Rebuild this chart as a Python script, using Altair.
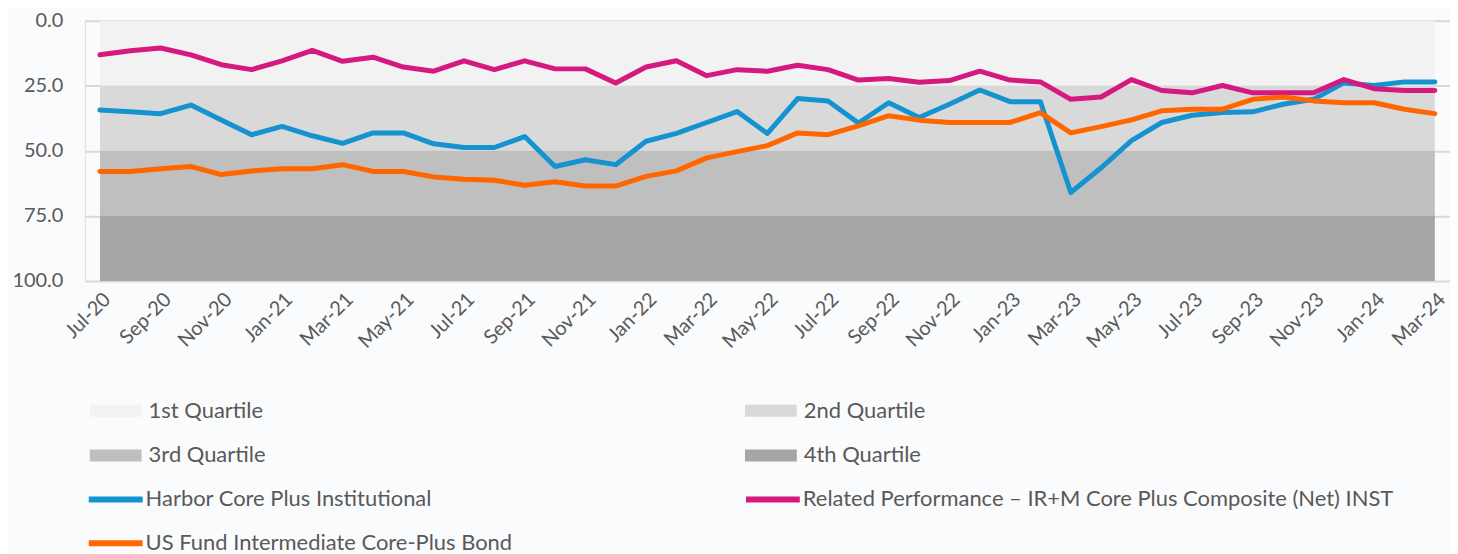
import altair as alt
import pandas as pd

months = ["Jul-20", "Aug-20", "Sep-20", "Oct-20", "Nov-20", "Dec-20",
          "Jan-21", "Feb-21", "Mar-21", "Apr-21", "May-21", "Jun-21",
          "Jul-21", "Aug-21", "Sep-21", "Oct-21", "Nov-21", "Dec-21",
          "Jan-22", "Feb-22", "Mar-22", "Apr-22", "May-22", "Jun-22",
          "Jul-22", "Aug-22", "Sep-22", "Oct-22", "Nov-22", "Dec-22",
          "Jan-23", "Feb-23", "Mar-23", "Apr-23", "May-23", "Jun-23",
          "Jul-23", "Aug-23", "Sep-23", "Oct-23", "Nov-23", "Dec-23",
          "Jan-24", "Feb-24", "Mar-24"]

harbor = [34.3, 35.0, 35.7, 32.4, 38.1, 43.8, 40.6, 44.2, 47.1, 43.1,
          43.1, 47.3, 48.7, 48.7, 44.5, 56.0, 53.4, 55.3, 46.3, 43.3,
          39.1, 34.9, 43.3, 29.9, 30.8, 39.3, 31.5, 37.2, 32.1, 26.6,
          31.1, 31.1, 66.0, 56.5, 46.1, 39.1, 36.3, 35.3, 35.0, 32.1,
          30.2, 23.9, 24.9, 23.5, 23.5]

related = [13.1, 11.5, 10.5, 13.1, 16.9, 18.8, 15.4, 11.4, 15.6, 14.0,
           17.8, 19.4, 15.4, 18.8, 15.4, 18.5, 18.5, 23.9, 17.8, 15.4,
           21.1, 18.8, 19.4, 17.1, 18.8, 22.8, 22.2, 23.6, 23.0, 19.4,
           22.8, 23.5, 30.2, 29.3, 22.6, 26.8, 27.7, 24.9, 27.7, 27.7,
           27.7, 22.6, 26.1, 26.8, 26.8]

us_fund = [57.9, 57.9, 56.9, 56.0, 59.1, 57.7, 56.9, 56.9, 55.3, 57.9,
           57.9, 60.0, 60.9, 61.3, 63.2, 61.9, 63.5, 63.5, 59.8, 57.7,
           52.7, 50.3, 48.0, 43.1, 43.8, 40.4, 36.5, 38.2, 39.1, 39.1,
           39.1, 35.3, 43.1, 40.7, 38.1, 34.6, 34.0, 34.0, 30.2, 29.3,
           30.8, 31.5, 31.5, 34.0, 35.7]

quartile_names = ["1st Quartile", "2nd Quartile", "3rd Quartile", "4th Quartile"]
quartile_low = [0, 25, 50, 75]
quartile_high = [25, 50, 75, 100]
quartile_colors = ["#f2f2f2", "#d9d9d9", "#bfbfbf", "#a6a6a6"]

series_names = ["Harbor Core Plus Institutional",
                "Related Performance \u2013 IR+M Core Plus Composite (Net) INST",
                "US Fund Intermediate Core-Plus Bond"]
series_colors = ["#1593d1", "#d6197f", "#ff6600"]
y_ticks = [0, 25, 50, 75, 100]

# legend entry order (legend fills column by column)
quartile_legend_order = [quartile_names[0], quartile_names[2],
                         quartile_names[1], quartile_names[3]]
series_legend_order = [series_names[0], series_names[2], series_names[1]]

FONT = "Lato"
TXT = "#595959"

bands = pd.DataFrame({
    "quartile": quartile_names,
    "lo": quartile_low,
    "hi": quartile_high,
    "start": [months[0]] * 4,
    "end": [months[-1]] * 4,
})

rows = []
for name, vals in zip(series_names, [harbor, related, us_fund]):
    for m, v in zip(months, vals):
        rows.append({"month": m, "series": name, "rank": v})
lines = pd.DataFrame(rows)

xscale = alt.Scale(type="point", domain=months, padding=0.5)
yscale = alt.Scale(domain=[0, 100], reverse=True, nice=False)

x_axis = alt.Axis(values=months[::2], labelAngle=315, labelFontSize=20,
                  labelColor=TXT, domain=False, ticks=False, grid=False,
                  title=None, labelPadding=8, labelFont=FONT)
y_axis = alt.Axis(values=y_ticks, format=".1f", grid=True, gridColor="#d9d9d9",
                  gridWidth=2, domain=False, ticks=False, labelPadding=22,
                  labelFontSize=20, labelColor=TXT, title=None, labelFont=FONT)

band_layer = alt.Chart(bands).mark_rect().encode(
    x=alt.X("start:O", scale=xscale, axis=x_axis, sort=months),
    x2="end:O",
    y=alt.Y("lo:Q", scale=yscale, axis=y_axis),
    y2="hi:Q",
    color=alt.Color("quartile:N",
                    scale=alt.Scale(domain=quartile_names, range=quartile_colors),
                    legend=alt.Legend(orient="none", legendX=20, legendY=380,
                                      values=quartile_legend_order,
                                      columns=2, columnPadding=480, rowPadding=23,
                                      symbolType="M-2.6,-0.6H2.6V0.6H-2.6Z",
                                      symbolSize=400, symbolStrokeWidth=0,
                                      labelOffset=22, labelFontSize=22,
                                      labelColor=TXT, labelFont=FONT,
                                      labelLimit=900, title=None, padding=0)),
)

line_layer = alt.Chart(lines).mark_line(strokeWidth=5, strokeJoin="round",
                                        strokeCap="round").encode(
    x=alt.X("month:O", scale=xscale, sort=months),
    y=alt.Y("rank:Q", scale=yscale),
    stroke=alt.Stroke("series:N",
                      scale=alt.Scale(domain=series_names, range=series_colors),
                      legend=alt.Legend(orient="none", legendX=18, legendY=467,
                                        values=series_legend_order,
                                        columns=2, columnPadding=222, rowPadding=19,
                                        symbolType="M-2.7,0H2.7",
                                        symbolSize=400, symbolStrokeWidth=6,
                                        labelOffset=17, labelFontSize=22,
                                        labelColor=TXT, labelFont=FONT,
                                        labelLimit=900, title=None, padding=0)),
    detail="series:N",
)

chart = alt.layer(band_layer, line_layer).properties(
    width=1369, height=261,
    padding={"left": 3, "top": 2, "right": 0, "bottom": 0},
    background="#fafbfc"
).configure_view(stroke=None).configure(font=FONT)

chart.save("out.html", embed_options={"renderer": "svg", "actions": False})
